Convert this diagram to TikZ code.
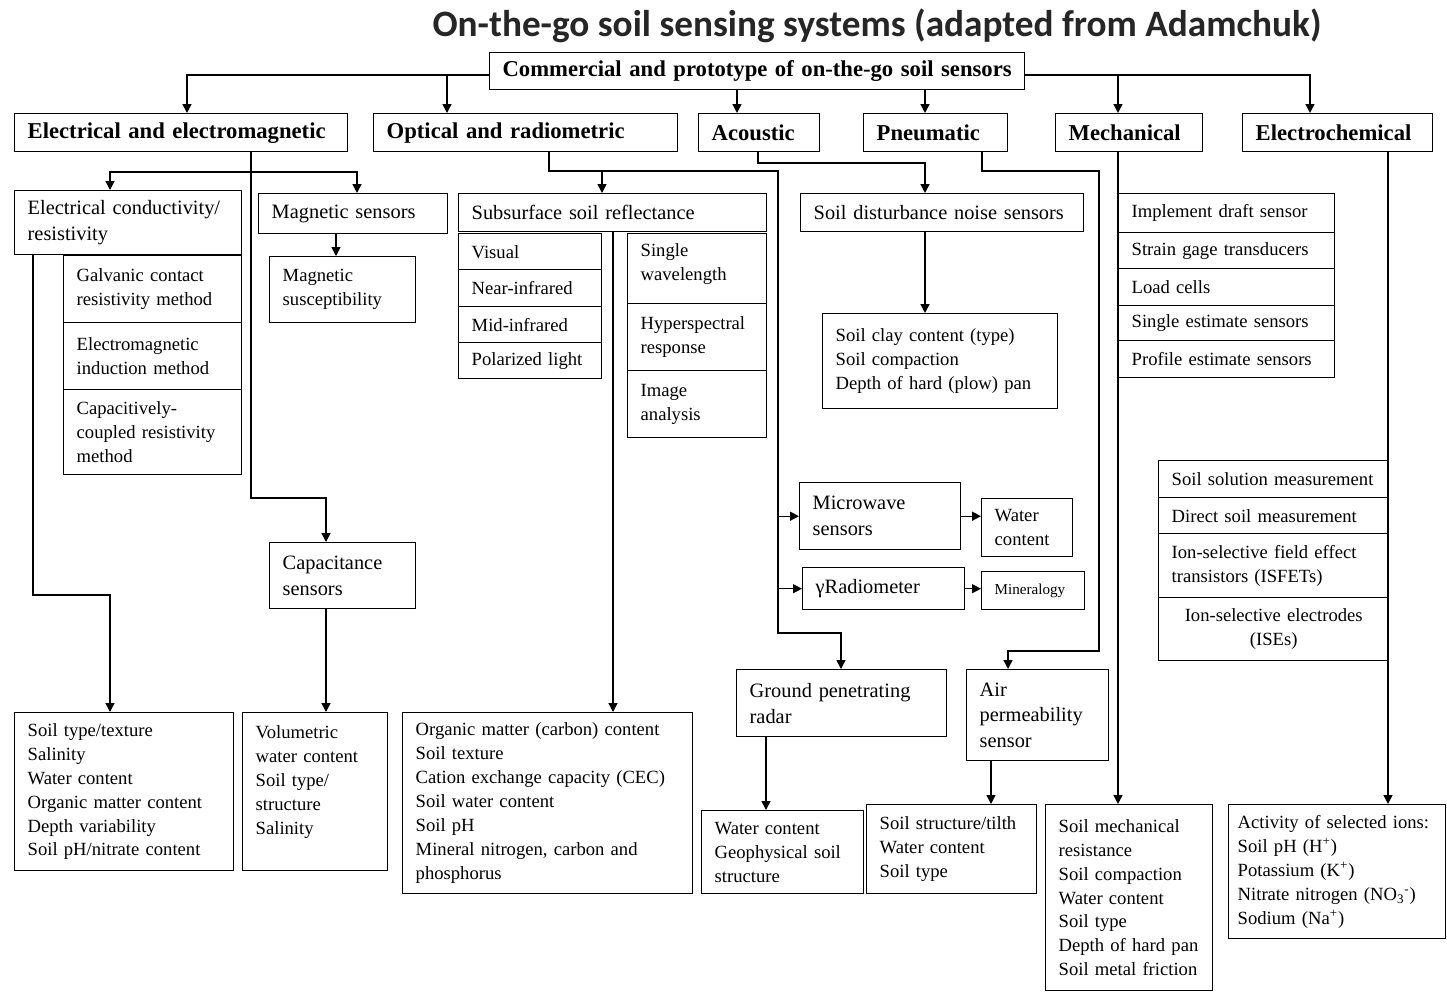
\documentclass[tikz,border=0pt]{standalone}
\usepackage{fontspec}
\setmainfont{Liberation Serif}
\newfontfamily\titlefont{Carlito}
\usetikzlibrary{arrows.meta}
\usetikzlibrary{calc}

\begin{document}
\begin{tikzpicture}[x=0.02cm, y=-0.02cm,
    box/.style={draw, thick, anchor=north west, align=left, inner xsep=0.26cm, inner ysep=0pt, font=\fontsize{10.6}{13.6}\selectfont},
    mid/.style={box, font=\fontsize{11.6}{14.7}\selectfont},
    hdr/.style={box, font=\bfseries\fontsize{12.9}{15}\selectfont},
    arr/.style={thick, -{Triangle[length=5pt,width=5pt]}}]
    \fill[white] (0,0) rectangle (1447,994);

    \node[font=\titlefont\bfseries\fontsize{21.2}{25}\selectfont, text=black!85] (title) at (877,26) {On-the-go soil sensing systems (adapted from Adamchuk)};
    \node[hdr, text width=10.4cm, inner xsep=0.15cm, minimum height=0.74cm, align=center] (top) at (489,52) {Commercial and prototype of on-the-go soil sensors};

    % sensor groups
    \node[hdr, text width=6.14cm, minimum height=0.76cm] (elec) at (14,113) {Electrical and electromagnetic};
    \node[hdr, text width=5.56cm, minimum height=0.76cm] (opt) at (373,113) {Optical and radiometric};
    \node[hdr, text width=1.90cm, minimum height=0.76cm] (acou) at (698,113) {Acoustic};
    \node[hdr, text width=2.36cm, minimum height=0.76cm] (pneu) at (863,113) {Pneumatic};
    \node[hdr, text width=2.42cm, minimum height=0.76cm] (mech) at (1055,113) {Mechanical};
    \node[hdr, text width=3.28cm, minimum height=0.76cm] (echem) at (1242,113) {Electrochemical};

    % electrical and electromagnetic
    \node[mid, text width=4.02cm, minimum height=1.28cm] (cond) at (14,190) {Electrical conductivity/\\resistivity};
    \node[box, text width=3.04cm, minimum height=1.34cm] (galv) at (63,255) {Galvanic contact\\resistivity method};
    \node[box, text width=3.04cm, minimum height=1.34cm] (emi) at (63,322) {Electromagnetic\\induction method};
    \node[box, text width=3.04cm, minimum height=1.70cm] (ccr) at (63,389) {Capacitively-\\coupled resistivity\\method};
    \node[mid, text width=3.26cm, minimum height=0.80cm] (mag) at (258,193) {Magnetic sensors};
    \node[box, text width=2.40cm, minimum height=1.32cm] (magsus) at (269,256) {Magnetic\\susceptibility};
    \node[mid, text width=2.40cm, minimum height=1.32cm] (cap) at (269,542) {Capacitance\\sensors};

    % optical and radiometric
    \node[mid, text width=5.64cm, minimum height=0.76cm] (subs) at (458,193) {Subsurface soil reflectance};
    \node[box, text width=2.34cm, minimum height=0.72cm] (vis) at (458,233) {Visual};
    \node[box, text width=2.34cm, minimum height=0.74cm] (nir) at (458,269) {Near-infrared};
    \node[box, text width=2.34cm, minimum height=0.72cm] (mir) at (458,306) {Mid-infrared};
    \node[box, text width=2.34cm, minimum height=0.72cm] (pol) at (458,342) {Polarized light};
    \node[box, text width=2.26cm, minimum height=1.40cm] (single) at (627,233) {Single\\wavelength\\[-6pt] \mbox{}};
    \node[box, text width=2.26cm, minimum height=1.34cm] (hyper) at (627,303) {Hyperspectral\\response};
    \node[box, text width=2.26cm, minimum height=1.34cm] (imgan) at (627,370) {Image\\analysis};
    \node[mid, text width=2.70cm, minimum height=1.34cm] (micro) at (799,482) {Microwave\\sensors};
    \node[box, text width=1.30cm, minimum height=1.16cm] (wcont) at (981,498) {Water\\content};
    \node[mid, text width=2.72cm, minimum height=0.84cm] (grad) at (802,567) {γRadiometer};
    \node[box, text width=1.54cm, minimum height=0.76cm, font=\fontsize{8.6}{10}\selectfont] (miner) at (981,571) {Mineralogy};
    \node[mid, text width=3.68cm, minimum height=1.34cm] (gpr) at (736,669) {Ground penetrating\\radar};

    % acoustic and pneumatic
    \node[mid, text width=5.14cm, minimum height=0.76cm] (noise) at (800,193) {Soil disturbance noise sensors};
    \node[box, text width=4.18cm, minimum height=1.90cm] (clay) at (822,313) {Soil clay content (type)\\Soil compaction\\Depth of hard (plow) pan};
    \node[mid, text width=2.32cm, minimum height=1.82cm] (air) at (966,669) {Air\\permeability\\sensor};

    % mechanical
    \node[box, text width=3.80cm, minimum height=0.78cm] (draft) at (1118,193) {Implement draft sensor};
    \node[box, text width=3.80cm, minimum height=0.72cm] (strain) at (1118,232) {Strain gage transducers};
    \node[box, text width=3.80cm, minimum height=0.74cm] (load) at (1118,268) {Load cells};
    \node[box, text width=3.80cm, minimum height=0.70cm] (sest) at (1118,305) {Single estimate sensors};
    \node[box, text width=3.80cm, minimum height=0.74cm] (pest) at (1118,340) {Profile estimate sensors};

    % electrochemical
    \node[box, text width=4.08cm, minimum height=0.74cm] (sol) at (1158,460) {Soil solution measurement};
    \node[box, text width=4.08cm, minimum height=0.72cm] (direct) at (1158,497) {Direct soil measurement};
    \node[box, text width=4.08cm, minimum height=1.28cm] (isfet) at (1158,533) {Ion-selective field effect\\transistors (ISFETs)};
    \node[box, text width=4.08cm, minimum height=1.26cm, align=center] (ise) at (1158,597) {Ion-selective electrodes\\(ISEs)};

    % measured properties
    \node[box, text width=3.86cm, minimum height=3.16cm] (res1) at (14,712) {Soil type/texture\\Salinity\\Water content\\Organic matter content\\Depth variability\\Soil pH/nitrate content};
    \node[box, text width=2.38cm, minimum height=3.16cm] (res2) at (242,712) {Volumetric\\water content\\Soil type/\\structure\\Salinity\\ \mbox{}};
    \node[box, text width=5.28cm, minimum height=3.62cm] (res3) at (402,712) {Organic matter (carbon) content\\Soil texture\\Cation exchange capacity (CEC)\\Soil water content\\Soil pH\\Mineral nitrogen, carbon and\\phosphorus};
    \node[box, text width=2.72cm, minimum height=1.66cm] (res4) at (701,810) {Water content\\Geophysical soil\\structure};
    \node[box, text width=2.88cm, minimum height=1.78cm] (res5) at (866,804) {Soil structure/tilth\\Water content\\Soil type};
    \node[box, text width=2.82cm, minimum height=3.72cm] (res6) at (1045,804) {Soil mechanical\\resistance\\Soil compaction\\Water content\\Soil type\\Depth of hard pan\\Soil metal friction};
    \node[box, text width=3.98cm, inner xsep=0.18cm, minimum height=2.68cm] (res7) at (1228,804) {Activity of selected ions:\\Soil pH (H\textsuperscript{+})\\Potassium (K\textsuperscript{+})\\Nitrate nitrogen (NO\textsubscript{3}\textsuperscript{-})\\Sodium (Na\textsuperscript{+})};

    % top level
    \draw[arr] ($(top.west)+(0,4)$) -| ($(elec.north west)+(173,0)$);
    \draw[arr] ($(top.west)+(0,4)$) -| ($(opt.north west)+(74,0)$);
    \draw[arr] ($(top.south west)+(248,0)$) -- ($(acou.north west)+(39,0)$);
    \draw[arr] ($(top.south west)+(436,0)$) -- ($(pneu.north west)+(62,0)$);
    \draw[arr] ($(top.east)+(0,4)$) -| ($(mech.north west)+(63,0)$);
    \draw[arr] ($(top.east)+(0,4)$) -| ($(echem.north west)+(68,0)$);

    % electrical
    \coordinate (ej) at (251,172);
    \draw[thick] ($(elec.south west)+(237,0)$) -- (ej);
    \draw[arr] (ej) -| ($(cond.north west)+(96,0)$);
    \draw[arr] (ej) -| ($(mag.north west)+(99,0)$);
    \draw[arr] (ej) |- ($(cap.north west)+(57,-44)$) -- ($(cap.north west)+(57,0)$);
    \draw[arr] ($(cond.south west)+(19,0)$) |- ($(res1.north west)+(96,-117)$) -- ($(res1.north west)+(96,0)$);
    \draw[arr] ($(mag.south west)+(78,0)$) -- ($(magsus.north west)+(67,0)$);
    \draw[arr] ($(cap.south west)+(57,0)$) -- ($(res2.north west)+(84,0)$);

    % optical
    \coordinate (oj) at (778,171);
    \coordinate (ok) at (778,633);
    \draw[arr] ($(opt.south west)+(176,0)$) |- (oj) -- (ok) -| ($(gpr.north west)+(105,0)$);
    \draw[arr] ($(subs.north west)+(144,-22)$) -- ($(subs.north west)+(144,0)$);
    \draw[arr] (micro.west -| oj) -- (micro.west);
    \draw[arr] (grad.west -| oj) -- (grad.west);
    \draw[arr] (micro.east) -- (micro.east -| wcont.west);
    \draw[arr] (grad.east) -- (grad.east -| miner.west);
    \draw[arr] ($(subs.south west)+(155,0)$) -- ($(res3.north west)+(211,0)$);
    \draw[arr] ($(gpr.south west)+(30,0)$) -- ($(res4.north west)+(65,0)$);

    % acoustic
    \draw[arr] ($(acou.south west)+(60,0)$) |- ($(noise.north west)+(125,-30)$) -- ($(noise.north west)+(125,0)$);
    \draw[arr] ($(noise.south west)+(125,0)$) -- ($(clay.north west)+(103,0)$);

    % pneumatic
    \coordinate (pj) at (1099,171);
    \coordinate (pk) at (1099,651);
    \draw[arr] ($(pneu.south west)+(119,0)$) |- (pj) -- (pk) -| ($(air.north west)+(42,0)$);
    \draw[arr] ($(air.south west)+(25,0)$) -- ($(res5.north west)+(125,0)$);

    % mechanical and electrochemical
    \draw[arr] ($(mech.south west)+(63,0)$) -- ($(res6.north west)+(73,0)$);
    \draw[arr] ($(echem.south west)+(146,0)$) -- ($(res7.north west)+(160,0)$);
\end{tikzpicture}
\end{document}
